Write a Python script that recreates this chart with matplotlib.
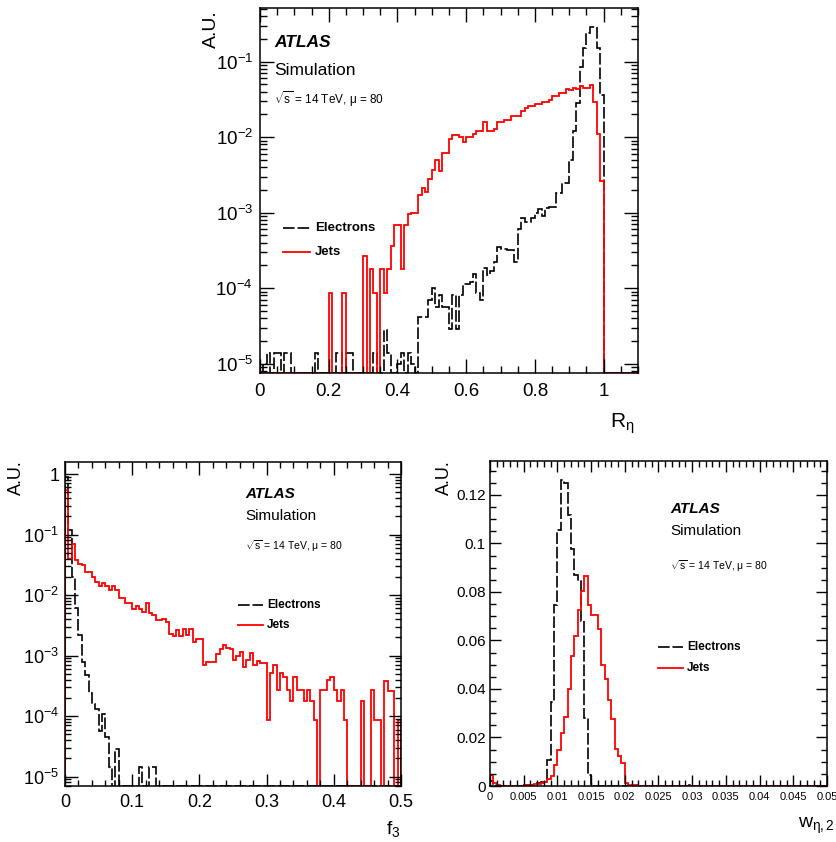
import numpy as np
import matplotlib
matplotlib.use("Agg")
import matplotlib.pyplot as plt
from matplotlib.ticker import MultipleLocator, LogLocator, FuncFormatter, NullFormatter

plt.rcParams['font.family'] = ['Liberation Sans', 'DejaVu Sans']
plt.rcParams['mathtext.fontset'] = 'custom'
plt.rcParams['mathtext.rm'] = 'Liberation Sans'
plt.rcParams['mathtext.it'] = 'Liberation Sans:italic'
plt.rcParams['mathtext.bf'] = 'Liberation Sans:bold'

# ---------------- data ----------------
# R_eta : 110 bins of 0.01 from 0 to 1.1
reta_range = (0.0, 1.1)
reta_electrons = [
    0, 1.0e-5, 1.4e-5, 0, 1.4e-5, 1.4e-5, 0, 1.4e-5, 1.4e-5, 0,
    0, 0, 0, 0, 0, 0, 1.4e-5, 0, 0, 0,
    0, 0, 1.4e-5, 1.4e-5, 0, 1.4e-5, 1.4e-5, 0, 0, 0,
    0, 0, 0, 1.4e-5, 0, 0, 2.8e-5, 1.4e-5, 0, 0,
    1.0e-5, 1.4e-5, 0, 1.4e-5, 1.0e-5, 0, 4.2e-5, 4.2e-5, 4.2e-5, 6.9e-5,
    1.0e-4, 5.6e-5, 8.1e-5, 5.6e-5, 5.6e-5, 2.9e-5, 8.1e-5, 2.9e-5, 8.1e-5, 1.15e-4,
    1.15e-4, 1.2e-4, 1.55e-4, 8.5e-5, 6.9e-5, 1.85e-4, 1.5e-4, 1.7e-4, 2.2e-4, 3.5e-4,
    3.3e-4, 3.3e-4, 3.2e-4, 3.2e-4, 2.2e-4, 6.0e-4, 8.5e-4, 7.5e-4, 7.5e-4, 8.5e-4,
    1.0e-3, 1.1e-3, 9.0e-4, 1.15e-3, 1.2e-3, 1.2e-3, 1.8e-3, 1.8e-3, 2.5e-3, 2.5e-3,
    5.0e-3, 1.2e-2, 2.8e-2, 8.6e-2, 0.15, 0.24, 0.285, 0.285, 0.15, 0.036,
    0, 0, 0, 0, 0, 0, 0, 0, 0, 0,
]
reta_jets = [
    0, 0, 0, 0, 0, 0, 0, 0, 0, 0,
    0, 0, 0, 0, 0, 0, 0, 0, 0, 0,
    8.7e-5, 0, 0, 0, 8.7e-5, 0, 0, 0, 0, 0,
    2.7e-4, 0, 1.8e-4, 8.7e-5, 0, 1.8e-4, 8.7e-5, 1.8e-4, 3.6e-4, 6.9e-4,
    6.9e-4, 1.8e-4, 6.9e-4, 9.6e-4, 1.0e-3, 1.0e-3, 1.7e-3, 2.1e-3, 1.9e-3, 2.75e-3,
    3.7e-3, 5.0e-3, 3.6e-3, 6.1e-3, 6.1e-3, 9.4e-3, 1.07e-2, 1.07e-2, 1.0e-2, 8.7e-3,
    1.0e-2, 1.0e-2, 1.1e-2, 1.2e-2, 1.2e-2, 1.6e-2, 1.2e-2, 1.2e-2, 1.3e-2, 1.6e-2,
    1.6e-2, 1.7e-2, 1.7e-2, 1.9e-2, 1.9e-2, 1.9e-2, 2.2e-2, 2.4e-2, 2.6e-2, 2.6e-2,
    2.75e-2, 2.75e-2, 2.95e-2, 2.95e-2, 3.1e-2, 3.55e-2, 3.55e-2, 3.8e-2, 3.8e-2, 4.4e-2,
    4.2e-2, 4.5e-2, 4.4e-2, 4.8e-2, 4.5e-2, 4.5e-2, 4.9e-2, 2.9e-2, 1.1e-2, 2.6e-3,
    0, 0, 0, 0, 0, 0, 0, 0, 0, 0,
]

# f3 : 100 bins of 0.005 from 0 to 0.5
f3_range = (0.0, 0.5)
f3_electrons = [
    0.9, 0.12, 0.02, 6.2e-3, 2.2e-3, 7.8e-4, 4.8e-4, 2.4e-4, 1.6e-4, 1.3e-4,
    5.7e-5, 1.1e-4, 4.5e-5, 1.45e-5, 0, 2.9e-5, 0, 0, 0, 0,
    0, 0, 1.45e-5, 0, 0, 1.45e-5, 1.45e-5, 0, 0, 0,
] + [0] * 70
f3_jets = [
    0.54, 0.040, 0.071, 0.038, 0.033, 0.031, 0.024, 0.024, 0.020, 0.0166,
    0.0143, 0.016, 0.014, 0.012, 0.014, 0.012, 0.0088, 0.0088, 0.0075, 0.0075,
    0.0059, 0.0067, 0.0059, 0.0053, 0.0073, 0.0051, 0.0047, 0.0039, 0.0039, 0.0040,
    0.0036, 0.0023, 0.0021, 0.0026, 0.0021, 0.0028, 0.0022, 0.0028, 0.0017, 0.0019,
    0.0019, 7.1e-4, 7.8e-4, 7.8e-4, 7.8e-4, 1.05e-3, 1.27e-3, 1.5e-3, 1.36e-3, 1.27e-3,
    8.5e-4, 9.8e-4, 1.15e-3, 6.4e-4, 8.5e-4, 1.1e-3, 7.0e-4, 8.0e-4, 7.4e-4, 7.4e-4,
    8.7e-5, 5.2e-4, 7.0e-4, 2.7e-4, 5.2e-4, 4.5e-4, 2.7e-4, 1.8e-4, 4.5e-4, 2.7e-4,
    2.7e-4, 1.8e-4, 2.7e-4, 1.8e-4, 8.5e-5, 0, 2.7e-4, 2.7e-4, 3.9e-4, 4.5e-4,
    2.7e-4, 1.8e-4, 2.7e-4, 8.5e-5, 0, 0, 0, 0, 1.8e-4, 0,
    0, 2.7e-4, 8.5e-5, 8.5e-5, 0, 3.8e-4, 2.6e-4, 2.6e-4, 0, 8.5e-5,
]

# w_eta2 : 100 bins of 0.0005 from 0 to 0.05
w_range = (0.0, 0.05)
w_electrons = [
    0.002, 0.0004, 0.0002, 0.0002, 0.0002, 0.0002, 0.0002, 0.0002, 0.0002, 0.0002,
    0.0003, 0.0004, 0.0006, 0.0009, 0.0012, 0.0015, 0.0018, 0.0106, 0.0347, 0.0748,
    0.1057, 0.1262, 0.1249, 0.1116, 0.0977, 0.0870, 0.0845, 0.0680, 0.0280, 0.0045,
    0.0008, 0.0002, 0.0002, 0.0002, 0.0002, 0.0002, 0.0001, 0.0001, 0.0001, 0.0001,
    0.0001, 0.0001, 0.0001, 0.0001, 0.0001, 0.0001, 0.0001, 0.0001, 0.0001, 0.0001,
    0.0001, 0.0001, 0.0001, 0.0001, 0.0001, 0.0001, 0.0001, 0.0001, 0.0001, 0.0006,
] + [0.0] * 40
w_jets = [
    0.0045, 0.0012, 0.0003, 0.0002, 0.0002, 0.0002, 0.0002, 0.0002, 0.0002, 0.0002,
    0.0003, 0.0004, 0.0005, 0.0007, 0.0009, 0.0011, 0.0015, 0.0027, 0.0042, 0.0085,
    0.0150, 0.0217, 0.0286, 0.0400, 0.0537, 0.0619, 0.0725, 0.0803, 0.0867, 0.0748,
    0.0703, 0.0703, 0.0646, 0.0497, 0.0442, 0.0354, 0.0276, 0.0154, 0.0122, 0.0095,
    0.0013, 0.0006, 0.0005, 0.0003, 0.0001, 0.0001, 0.0001, 0.0001, 0.0001, 0.0001,
] + [0.0001] * 20 + [0.0] * 30

legend_labels = ["Electrons", "Jets"]
atlas_label = "ATLAS"
sim_label = "Simulation"
energy_label = r"$\sqrt{\mathrm{s}}$ = 14 TeV, μ = 80"

# ---------------- figure ----------------
W, H = 837, 842
fig = plt.figure(figsize=(W / 100, H / 100), dpi=100)


def rect(l, r, t, b):
    return [l / W, 1 - b / H, (r - l) / W, (b - t) / H]


def fx(px):
    return px / W


def fy(py):
    return 1 - py / H


RED = '#ff0000'
ELEC_STYLE = dict(color='black', lw=1.2, linestyle=(0, (7, 1.7)))
JET_STYLE = dict(color=RED, lw=1.3, linestyle='-')


def log_fmt(v, pos):
    e = int(round(np.log10(v)))
    return '1' if e == 0 else r'$10^{%d}$' % e


def g_fmt(v, pos):
    return '%g' % round(v, 6)


def draw_hist(ax, vals, rng, floor, style):
    vals = np.asarray(vals, dtype=float)
    edges = np.linspace(rng[0], rng[1], len(vals) + 1)
    v = np.where(vals > 0, vals, floor)
    ax.stairs(v, edges, baseline=floor, fill=False, **style)


def style_axes(ax, maj_len, min_len, lsize, pad):
    ax.tick_params(which='both', direction='in', top=True, right=True,
                   width=1.0, colors='black')
    ax.tick_params(which='major', length=maj_len, labelsize=lsize, pad=pad)
    ax.tick_params(which='minor', length=min_len)
    for s in ax.spines.values():
        s.set_linewidth(1.1)


def legend(px_line0, px_line1, px_text, py_rows, fs):
    for (lab, st, py) in zip(legend_labels, [ELEC_STYLE, JET_STYLE], py_rows):
        fig.add_artist(plt.Line2D([fx(px_line0), fx(px_line1)], [fy(py), fy(py)],
                                  transform=fig.transFigure, **st))
        fig.text(fx(px_text), fy(py), lab, fontsize=fs, fontweight='bold',
                 ha='left', va='center')


def labels(px, py_atlas, py_sim, py_en, fs_big, fs_small):
    fig.text(fx(px), fy(py_atlas), atlas_label, fontsize=fs_big, fontweight='bold',
             style='italic', ha='left', va='baseline')
    fig.text(fx(px), fy(py_sim), sim_label, fontsize=fs_big, ha='left', va='baseline')
    fig.text(fx(px), fy(py_en), energy_label, fontsize=fs_small, ha='left', va='baseline')


# ---- top: R_eta ----
ax1 = fig.add_axes(rect(260, 638, 8, 373))
ylo1, yhi1 = 7.5e-6, 0.514
ax1.set_yscale('log')
ax1.set_xlim(*reta_range)
ax1.set_ylim(ylo1, yhi1)
draw_hist(ax1, reta_electrons, reta_range, ylo1, ELEC_STYLE)
draw_hist(ax1, reta_jets, reta_range, ylo1, JET_STYLE)
ax1.xaxis.set_major_locator(MultipleLocator(0.2))
ax1.xaxis.set_minor_locator(MultipleLocator(0.05))
ax1.xaxis.set_major_formatter(FuncFormatter(g_fmt))
ax1.yaxis.set_major_locator(LogLocator(base=10, numticks=20))
ax1.yaxis.set_minor_locator(LogLocator(base=10, subs=np.arange(2, 10), numticks=20))
ax1.yaxis.set_major_formatter(FuncFormatter(log_fmt))
ax1.yaxis.set_minor_formatter(NullFormatter())
style_axes(ax1, 10, 5, 13.5, 5)
ax1.tick_params(axis='x', pad=7)
fig.text(fx(211), fy(29), "A.U.", rotation=90, fontsize=14, ha='center', va='center')
fig.text(fx(634), fy(424), r"R$_{\mathrm{η}}$", fontsize=15, ha='right', va='center')
labels(274, 47, 75, 104, 12.5, 8.5)
legend(283, 310, 315, [228, 252], 9.5)

# ---- bottom left: f3 ----
ax2 = fig.add_axes(rect(65, 401, 462, 786))
ylo2, yhi2 = 7.0e-6, 1.58
ax2.set_yscale('log')
ax2.set_xlim(*f3_range)
ax2.set_ylim(ylo2, yhi2)
draw_hist(ax2, f3_electrons, f3_range, ylo2, ELEC_STYLE)
draw_hist(ax2, f3_jets, f3_range, ylo2, JET_STYLE)
ax2.xaxis.set_major_locator(MultipleLocator(0.1))
ax2.xaxis.set_minor_locator(MultipleLocator(0.02))
ax2.xaxis.set_major_formatter(FuncFormatter(g_fmt))
ax2.yaxis.set_major_locator(LogLocator(base=10, numticks=20))
ax2.yaxis.set_minor_locator(LogLocator(base=10, subs=np.arange(2, 10), numticks=20))
ax2.yaxis.set_major_formatter(FuncFormatter(log_fmt))
ax2.yaxis.set_minor_formatter(NullFormatter())
style_axes(ax2, 9, 4.5, 13, 4)
ax2.tick_params(axis='x', pad=6)
fig.text(fx(16), fy(478), "A.U.", rotation=90, fontsize=13, ha='center', va='center')
fig.text(fx(401), fy(829), r"f$_{3}$", fontsize=14, ha='right', va='center')
labels(245, 498, 520, 550, 11, 7.5)
legend(238, 263, 267, [605, 625], 8.5)

# ---- bottom right: w_eta2 ----
ax3 = fig.add_axes(rect(490, 827, 461, 786))
ax3.set_xlim(*w_range)
ax3.set_ylim(0, 0.134)
draw_hist(ax3, w_electrons, w_range, 0.0, ELEC_STYLE)
draw_hist(ax3, w_jets, w_range, 0.0, JET_STYLE)
ax3.xaxis.set_major_locator(MultipleLocator(0.005))
ax3.xaxis.set_minor_locator(MultipleLocator(0.001))
ax3.xaxis.set_major_formatter(FuncFormatter(g_fmt))
ax3.yaxis.set_major_locator(MultipleLocator(0.02))
ax3.yaxis.set_minor_locator(MultipleLocator(0.005))
ax3.yaxis.set_major_formatter(FuncFormatter(g_fmt))
style_axes(ax3, 8, 4, 11, 3)
ax3.tick_params(axis='x', labelsize=8, pad=4)
fig.text(fx(444), fy(478), "A.U.", rotation=90, fontsize=13, ha='center', va='center')
fig.text(fx(835), fy(826), r"w$_{\mathrm{η,2}}$", fontsize=14, ha='right', va='center')
labels(670, 513, 535, 570, 11, 7.5)
legend(658, 683, 687, [647, 668], 8.5)

fig.savefig("out.png", dpi=100)
